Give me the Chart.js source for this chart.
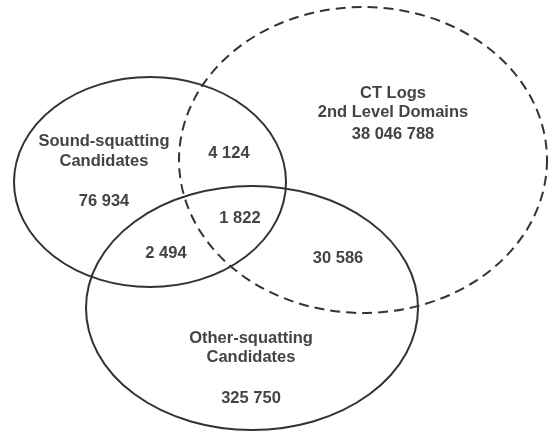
<!DOCTYPE html>
<html>
<head>
<meta charset="utf-8">
<script src="https://cdn.jsdelivr.net/npm/chart.js@4"></script>
<style>
  html, body { margin: 0; padding: 0; background: #fff; }
  #wrap { width: 552px; height: 434px; }
</style>
</head>
<body>
<div id="wrap"><canvas id="venn" width="552" height="434"></canvas></div>
<script>
// Venn data

const setNames = ["Sound-squatting\nCandidates", "CT Logs\n2nd Level Domains", "Other-squatting\nCandidates"];
const regionKeys = ["sound", "ct", "other", "sound+ct", "sound+other", "ct+other", "all"];
const regionCounts = [76934, 38046788, 325750, 4124, 2494, 30586, 1822];

// Layout (in reference pixel units, mapped through the chart scales)

const ellipses = [
  { cx: 150, cy: 182, rx: 136, ry: 105, dashed: false },
  { cx: 363, cy: 160, rx: 184, ry: 153, dashed: true },
  { cx: 252, cy: 308, rx: 166, ry: 122, dashed: false }
];

const setLabelPos = [ [104, 151.5], [393, 103], [251, 348] ];
const regionPos = {
  "sound": [104, 201],
  "ct": [393, 134],
  "other": [251, 398],
  "sound+ct": [229, 153],
  "sound+other": [166, 253],
  "ct+other": [338, 258],
  "all": [240, 218]
};

function fmt(n){
  return String(n).replace(/\B(?=(\d{3})+(?!\d))/g, " ");
}

const vennPlugin = {
  id: "venn",
  afterDatasetsDraw(chart){
    const ctx = chart.ctx;
    const xs = chart.scales.x;
    const ys = chart.scales.y;

    ctx.save();
    ctx.strokeStyle = "#333333";
    ctx.lineWidth = 2;

    ellipses.forEach(e => {
      const px = xs.getPixelForValue(e.cx);
      const py = ys.getPixelForValue(e.cy);
      const rx = Math.abs(xs.getPixelForValue(e.cx + e.rx) - px);
      const ry = Math.abs(ys.getPixelForValue(e.cy + e.ry) - py);
      ctx.setLineDash(e.dashed ? [10, 6] : []);
      ctx.beginPath();
      ctx.ellipse(px, py, rx, ry, 0, 0, Math.PI * 2);
      ctx.stroke();
    });

    ctx.setLineDash([]);
    ctx.fillStyle = "#444444";
    ctx.font = "bold 16.5px 'Liberation Sans', Arial, sans-serif";
    ctx.textAlign = "center";
    ctx.textBaseline = "middle";

    // set names
    setNames.forEach((name, i) => {
      const lines = name.split("\n");
      const p = setLabelPos[i];
      lines.forEach((line, j) => {
        const yv = p[1] - (lines.length - 1) * 9.75 + j * 19.5;
        ctx.fillText(line, xs.getPixelForValue(p[0]), ys.getPixelForValue(yv));
      });
    });

    // region counts
    regionKeys.forEach((key, i) => {
      const p = regionPos[key];
      ctx.fillText(fmt(regionCounts[i]), xs.getPixelForValue(p[0]), ys.getPixelForValue(p[1]));
    });

    ctx.restore();
  }
};

new Chart(document.getElementById("venn"), {
  type: "scatter",
  data: {
    datasets: [{
      label: "regions",
      data: regionKeys.map(k => ({ x: regionPos[k][0], y: regionPos[k][1] })),
      pointRadius: 0
    }]
  },
  options: {
    responsive: false,
    devicePixelRatio: 1,
    animation: false,
    layout: { padding: 0 },
    plugins: {
      legend: { display: false },
      tooltip: { enabled: false }
    },
    scales: {
      x: { type: "linear", min: 0, max: 552, display: false },
      y: { type: "linear", min: 0, max: 434, reverse: true, display: false }
    }
  },
  plugins: [vennPlugin]
});
</script>
</body>
</html>
